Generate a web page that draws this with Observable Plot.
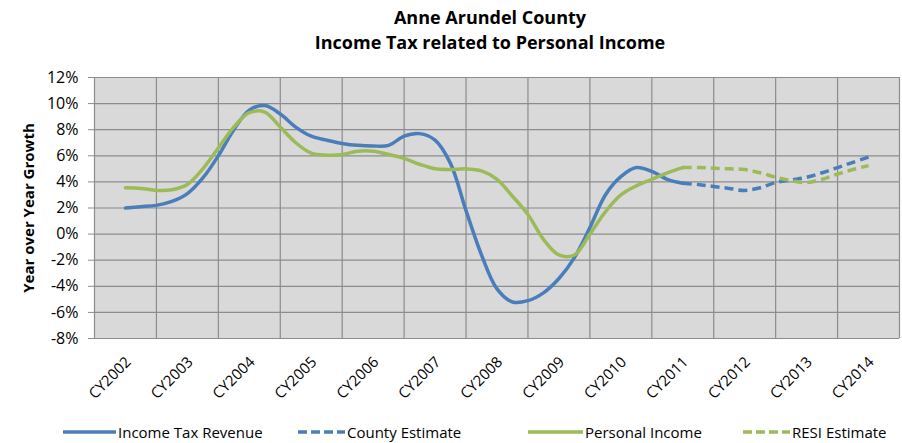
<!DOCTYPE html>
<html><head><meta charset="utf-8">
<script src="https://cdn.jsdelivr.net/npm/d3@7"></script>
<script src="https://cdn.jsdelivr.net/npm/@observablehq/plot@0.6"></script>
<style>
body{margin:0;background:#fff;width:902px;height:443px;position:relative;overflow:hidden;font-family:"Open Sans",sans-serif;color:#000;}
#title{position:absolute;left:0;top:5px;width:980px;text-align:center;font-weight:bold;font-size:18px;line-height:25px;}
#chart{position:absolute;left:0;top:65px;}
.leg{position:absolute;top:421px;height:22px;display:flex;align-items:center;font-size:15px;white-space:nowrap;}
.leg svg{margin-right:2px;}
</style></head>
<body>
<div id="title">Anne Arundel County<br>Income Tax related to Personal Income</div>
<div id="chart"></div>
<div id="legend"></div>
<script>
const years = [2002,2003,2004,2005,2006,2007,2008,2009,2010,2011,2012,2013,2014];
const yTicks = [-8,-6,-4,-2,0,2,4,6,8,10,12];
// Quarterly values, 2002Q1 .. 2011Q1 (actual)
const incomeTax = [2.0,2.1,2.2,2.5,3.1,4.3,6.0,8.0,9.5,9.85,9.2,8.2,7.5,7.2,6.95,6.8,6.75,6.8,7.5,7.7,7.2,5.4,1.8,-1.6,-4.2,-5.2,-5.1,-4.5,-3.4,-1.8,0.5,3.0,4.4,5.1,4.8,4.2,3.9];
const personalIncome = [3.55,3.5,3.35,3.4,3.8,5.0,6.6,8.2,9.3,9.35,8.2,7.0,6.2,6.05,6.1,6.35,6.35,6.1,5.8,5.35,5.0,4.95,5.0,4.85,4.2,2.9,1.5,-0.4,-1.6,-1.6,0.0,1.7,3.0,3.7,4.2,4.7,5.1];
// Quarterly estimates, 2011Q1 .. 2014Q1
const countyEstimate = [3.9,3.8,3.65,3.5,3.35,3.55,3.95,4.15,4.35,4.7,5.1,5.5,5.9];
const resiEstimate = [5.1,5.1,5.05,5.0,4.95,4.7,4.36,4.1,3.95,4.2,4.6,4.95,5.25];

const seriesNames = ["Income Tax Revenue","County Estimate","Personal Income","RESI Estimate"];
const colors = {"Income Tax Revenue":"#4a7ebb","County Estimate":"#4a7ebb","Personal Income":"#9bbb59","RESI Estimate":"#9bbb59"};
const dashed = {"Income Tax Revenue":false,"County Estimate":true,"Personal Income":false,"RESI Estimate":true};

function rows(values, start, name){ return values.map((v,i)=>({t: start + i/4, v, name})); }
const data = {
  "Income Tax Revenue": rows(incomeTax, 2002, "Income Tax Revenue"),
  "County Estimate": rows(countyEstimate, 2011, "County Estimate"),
  "Personal Income": rows(personalIncome, 2002, "Personal Income"),
  "RESI Estimate": rows(resiEstimate, 2011, "RESI Estimate")
};
const boundaries = [years[0]-0.5, ...years.map(y=>y+0.5)];

const lineMarks = seriesNames.map(n => Plot.line(data[n], {
  x: "t", y: "v", stroke: colors[n], strokeWidth: 3.5, curve: "catmull-rom",
  strokeDasharray: dashed[n] ? "9,5" : null, strokeLinecap: dashed[n] ? "butt" : "round"
}));

const chart = Plot.plot({
  width: 902, height: 345,
  marginTop: 12, marginBottom: 72, marginLeft: 94, marginRight: 3,
  style: {fontFamily: "Open Sans, sans-serif", fontSize: "16px", color: "#000", background: "transparent", overflow: "visible"},
  x: {domain: [2001.5, 2014.5]},
  y: {domain: [-8, 12]},
  marks: [
    Plot.frame({fill: "#d9d9d9", stroke: null}),
    Plot.ruleX(boundaries, {stroke: "#8c8c8c", strokeWidth: 1.2}),
    Plot.ruleY(yTicks, {stroke: "#8c8c8c", strokeWidth: 1.2}),
    Plot.axisY({ticks: yTicks, tickFormat: d => d + "%", tickSize: 6, stroke: "#8c8c8c", tickPadding: 10, label: null, fontSize: 16}),
    Plot.text(["Year over Year Growth"], {frameAnchor: "left", textAnchor: "middle", rotate: -90, dx: -65, fontWeight: "bold", fontSize: 15}),
    Plot.axisX({ticks: years, tickFormat: d => "CY" + d, tickRotate: -45, tickSize: 0, tickPadding: 21, dx: 3, label: null, fontSize: 15}),
    ...lineMarks
  ]
});
document.getElementById("chart").appendChild(chart);
d3.select(chart).selectAll("text").filter(function(){ return /%$/.test(this.textContent); })
  .attr("font-size", null).style("font-size", "16px");
d3.select(chart).selectAll("g").filter(function(){ return /y-axis tick label/.test(this.getAttribute("aria-label")||""); })
  .attr("font-size", 16).style("font-size", "16px");

const legX = [{line:63,text:118},{line:298,text:347},{line:528,text:585},{line:743,text:792}];
const leg = document.getElementById("legend");
seriesNames.forEach((n,i)=>{
  const el = document.createElement("div");
  el.className = "leg";
  el.style.left = legX[i].line + "px";
  const w = legX[i].text - legX[i].line - 2;
  el.innerHTML = `<svg width="${w}" height="10"><line x1="0" y1="5" x2="${w}" y2="5" stroke="${colors[n]}" stroke-width="3.5" ${dashed[n] ? 'stroke-dasharray="9,4"' : ''}/></svg><span>${n}</span>`;
  leg.appendChild(el);
});
</script>
</body></html>
